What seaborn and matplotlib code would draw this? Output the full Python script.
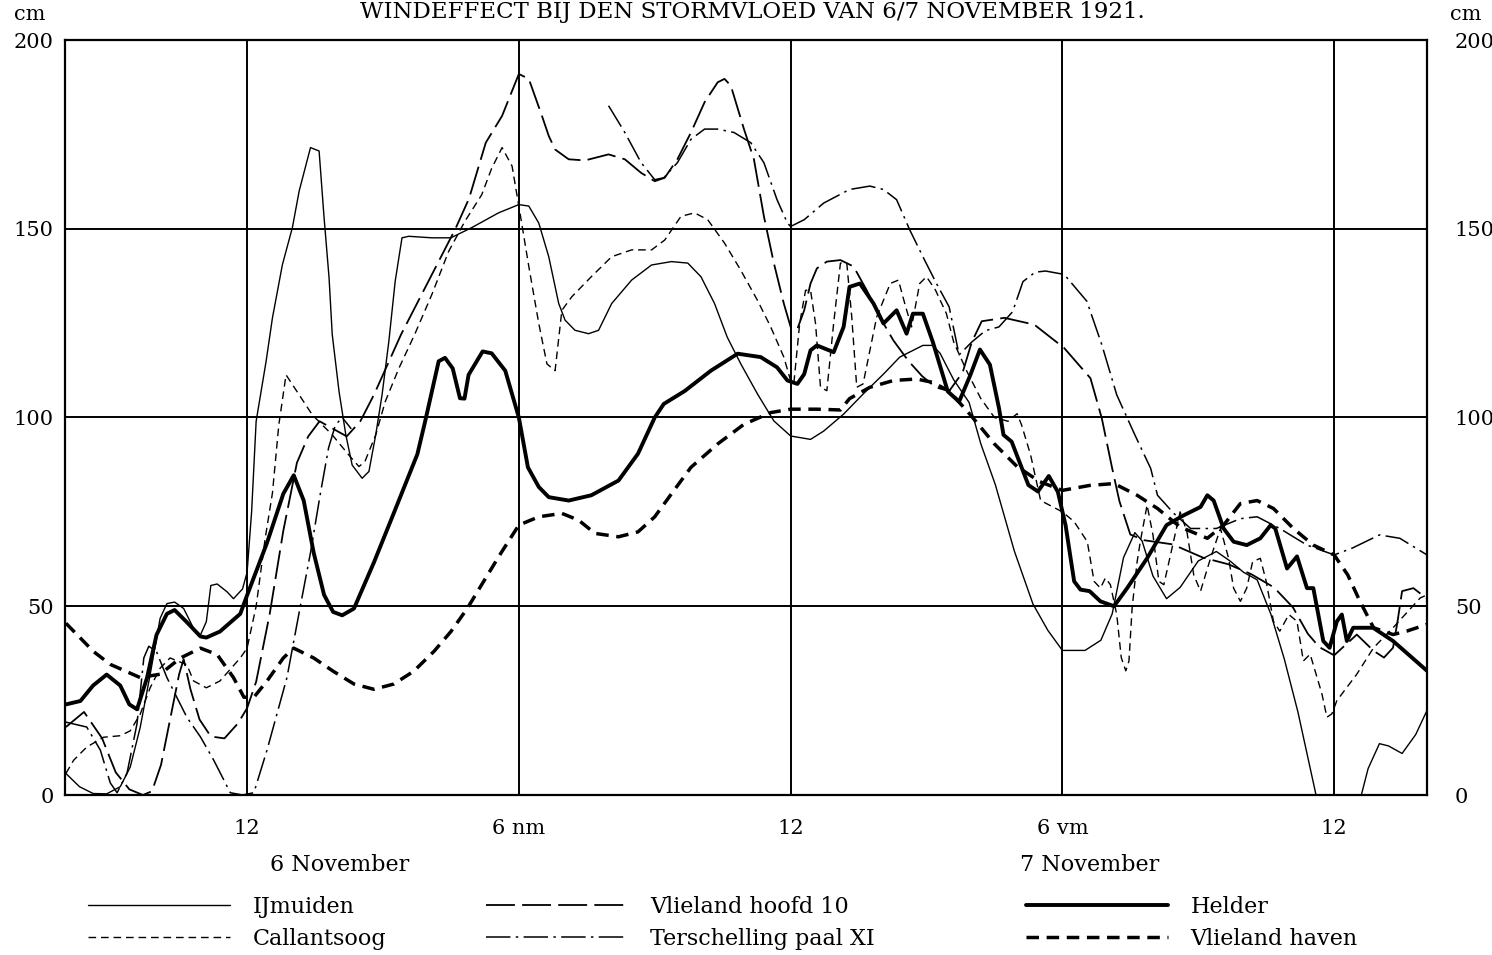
import numpy as np
import pandas as pd
import matplotlib
matplotlib.use("Agg")
import matplotlib.pyplot as plt
from matplotlib.lines import Line2D
import seaborn as sns

# ---------------- data (hours since 6 Nov 00:00, cm) ----------------
ijmuiden_h = [8.0, 8.3, 8.6, 8.9, 9.2, 9.42, 9.64, 9.86, 10.08, 10.23, 10.4, 10.6, 10.82, 10.97, 11.1, 11.2,
              11.34, 11.56, 11.7, 11.9, 12.0, 12.1, 12.2, 12.42, 12.56, 12.78, 13.0, 13.15, 13.4, 13.59, 13.7,
              13.81, 13.88, 14.03, 14.18, 14.32, 14.54, 14.69, 14.84, 14.98, 15.13, 15.27, 15.42, 15.57, 16.08,
              16.5, 16.96, 17.55, 18.0, 18.22, 18.44, 18.66, 18.88, 19.02, 19.24, 19.54, 19.76, 20.05, 20.49,
              20.93, 21.37, 21.73, 22.02, 22.32, 22.6, 22.9, 23.27, 23.63, 24.0, 24.44, 24.73, 25.17, 25.6,
              26.05, 26.41, 26.92, 27.14, 27.3, 27.6, 27.94, 28.2, 28.52, 28.94, 29.35, 29.68, 30.0, 30.5,
              30.85, 31.1, 31.35, 31.6, 31.76, 32.0, 32.3, 32.6, 33.0, 33.4, 33.7, 34.0, 34.3, 34.6, 34.9,
              35.2, 35.6, 36.0, 36.6, 36.75, 37.0, 37.2, 37.5, 37.8, 38.05]
ijmuiden_cm = [5.7, 2.2, 0.4, 0.3, 2.2, 7.4, 17.9, 31.9, 46.8, 50.7, 51.1, 49.4, 44.1, 42.4, 45.9, 55.5,
               55.9, 53.8, 52.0, 54.6, 59, 75, 99, 114.9, 126.4, 140.5, 150.3, 160, 171.5, 170.6, 152.9,
               137, 122, 106.9, 95.4, 87.4, 83.9, 85.7, 95.4, 106, 120.2, 136.1, 147.6, 148, 147.6,
               147.6, 150.3, 154.2, 156.4, 156, 151.5, 142.6, 130.2, 125.8, 123.1, 122.2, 123.1, 130.2, 136.4,
               140.4, 141.3, 140.9, 137.3, 130.2, 121.3, 114.2, 106.2, 99.1, 95.1, 94.2, 96.4, 100.9, 106.2,
               111.5, 116, 119.1, 119.1, 117, 110, 104, 93, 82.2, 64.6, 50.6, 43.6, 38.3, 38.3,
               41, 48, 62.9, 69.5, 67.3, 58, 52, 55, 62, 64.5, 62, 59, 57, 48, 36,
               22, 0, 0, 0, 7, 13.6, 13, 11, 16, 22.4]

callantsoog_h = [8.0, 8.17, 8.46, 8.83, 9.2, 9.42, 9.64, 9.86, 10.08, 10.3, 10.67, 10.82, 11.1, 11.4, 11.85,
                 12.0, 12.2, 12.4, 12.56, 12.7, 12.86, 13.15, 13.44, 13.88, 14.25, 14.47, 14.6, 14.84, 15.05,
                 15.35, 15.7, 16.08, 16.45, 16.81, 17.18, 17.4, 17.63, 17.85, 18.0, 18.22, 18.44, 18.62, 18.8,
                 18.95, 19.17, 19.6, 20.05, 20.49, 20.93, 21.22, 21.58, 21.88, 22.17, 22.54, 22.9, 23.27,
                 23.56, 23.85, 24.0, 24.07, 24.2, 24.33, 24.44, 24.55, 24.66, 24.8, 24.95, 25.1, 25.24,
                 25.35, 25.46, 25.6, 25.9, 26.2, 26.38, 26.52, 26.67, 26.85, 27.0, 27.2, 27.44, 27.6, 27.9,
                 28.2, 28.5, 28.8, 29.0, 29.1, 29.3, 29.52, 30.0, 30.26, 30.55, 30.7, 30.84, 30.95, 31.06,
                 31.2, 31.3, 31.4, 31.47, 31.54, 31.65, 31.72, 31.87, 32.0, 32.13, 32.24, 32.42, 32.6,
                 32.75, 32.9, 33.05, 33.27, 33.49, 33.67, 33.78, 33.93, 34.07, 34.2, 34.37, 34.5, 34.66,
                 34.8, 35.0, 35.18, 35.32, 35.47, 35.6, 35.73, 35.84, 35.95, 36.06, 36.5, 36.87, 37.3,
                 37.9, 38.05]
callantsoog_cm = [5.7, 9.2, 12.7, 15.3, 15.7, 17, 21.4, 28.4, 33.6, 36.3, 34.5, 30.2, 28.4, 30.2, 36.3,
                  38.9, 50, 68, 80, 98, 111.3, 106, 100.7, 95.4, 90, 87, 88.3, 95.4, 104.2,
                  113, 122, 132.6, 144, 152, 159, 166, 171.5, 166.6, 156, 140, 124.9, 114.2, 112.4,
                  128.4, 132, 137.3, 142.6, 144.4, 144.4, 147, 153.3, 154.2, 152.4, 146.2, 139, 131,
                  124, 116, 109.8, 108.9, 124.9, 133.7, 133.7, 124.9, 108, 107.1, 124.9, 140.9, 140.9,
                  126.6, 108, 108.9, 126.6, 135.5, 136.4, 130.2, 124, 135.5, 137.3, 133.7, 127.5, 120, 112,
                  105, 100, 99, 101, 98, 90, 78, 75, 72.4, 67.1, 56.6, 54.8, 57.5, 55.7,
                  47.8, 36.4, 32.9, 35.5, 49.6, 61.8, 67.1, 76.8, 68.9, 56.6, 55.7, 65.4, 75,
                  69.7, 58.3, 54, 62.7, 70.6, 62.7, 54.8, 51.3, 54.8, 61.8, 62.7, 56.6, 46,
                  43.4, 47.8, 46, 35.5, 37.3, 32, 26.8, 20.6, 21.5, 25, 32, 39, 44.3,
                  52.2, 53]

vlieland_hoofd_h = [8.0, 8.4, 8.8, 9.1, 9.4, 9.7, 9.9, 10.1, 10.3, 10.5, 10.6, 10.75, 10.95, 11.2, 11.5, 11.8,
                    12.0, 12.2, 12.5, 12.8, 13.1, 13.35, 13.6, 13.9, 14.2, 14.5, 14.8, 15.1, 15.4, 15.7, 16.0,
                    16.3, 16.6, 16.9, 17.27, 17.63, 18.0, 18.22, 18.51, 18.66, 18.8, 19.1, 19.46, 19.98, 20.34,
                    20.7, 21.0, 21.22, 21.5, 21.8, 22.1, 22.39, 22.54, 22.68, 22.97, 23.19, 23.41, 23.63,
                    23.85, 24.0, 24.15, 24.3, 24.44, 24.58, 24.8, 25.1, 25.39, 25.68, 25.97, 26.27, 26.6,
                    26.9, 27.2, 27.5, 27.8, 28.0, 28.22, 28.72, 29.38, 30.04, 30.62, 30.87, 31.1, 31.26,
                    31.5, 31.8, 32.43, 33.1, 33.67, 34.17, 34.67, 35.09, 35.42, 35.67, 36.0, 36.5, 36.87,
                    37.1, 37.3, 37.4, 37.5, 37.75, 38.05]
vlieland_hoofd_cm = [18, 22, 15, 6, 1.5, 0, 1, 8, 20, 32, 36, 28, 20, 15.5, 15, 19,
                     23, 30, 48, 70, 88, 95, 99, 97, 95, 99, 106, 114, 122, 129, 136,
                     143, 150, 158, 172.8, 179.9, 191, 189.7, 179.9, 174.6, 171, 168.4, 168.1, 169.7, 168.4,
                     164.8, 162.6, 163.5, 168.4, 175.5, 183.5, 188.8, 189.7, 187.9, 176.4, 168.4, 153.3, 140.9,
                     130.2, 124, 123.5, 128.4, 135.5, 139.5, 141.3, 141.7, 140, 133.7, 126.6, 120.4, 115,
                     111, 108, 107, 112, 120, 125.5, 126.4, 124.6, 118.4, 110.4, 99.8, 86.5, 77.8,
                     69, 67.5, 66.4, 62.9, 61.1, 58.5, 55, 49.7, 42.7, 39.2, 37, 42.5, 38.2,
                     36.4, 39, 46, 54, 54.8, 52]

# NaN marks the break in the Terschelling record
terschelling_h = [8.0, 8.46, 8.76, 8.98, 9.13, 9.35, 9.57, 9.72, 9.83, 10.0, 10.23, 10.67, 10.97, 11.26, 11.63,
                  11.9, 12.15, 12.44, 12.88, 13.18, 13.4, 13.62, 13.8, 13.95, 14.1, 14.3, np.nan,
                  19.98, 20.34, 20.7, 21.0, 21.2, 21.5, 21.8, 22.1, 22.39, 22.75, 23.12, 23.41, 23.7, 23.93,
                  24.0, 24.3, 24.73, 25.3, 25.75, 26.05, 26.34, 26.63, 26.92, 27.22, 27.5, 27.72, 28.0,
                  28.3, 28.6, 28.9, 29.13, 29.4, 29.63, 30.04, 30.54, 30.87, 31.2, 31.6, 31.95, 32.1, 32.46,
                  32.83, 33.4, 33.93, 34.3, 34.8, 35.4, 36.0, 36.4, 37.0, 37.45, 38.05]
terschelling_cm = [19.3, 18, 11.9, 3.2, 0.6, 5.8, 18.9, 36.3, 39.4, 38, 31.1, 20.6, 15.4, 9.3, 0.6,
                   0, 0.6, 11.9, 31.1, 50.3, 64.2, 80, 92, 98, 100, 97, np.nan,
                   182.6, 175.5, 167.5, 163, 163.5, 167.5, 173.7, 176.4, 176.4, 175.5, 172.8, 167.5, 157.7, 151.5,
                   150.6, 152.4, 156.8, 160.4, 161.3, 160.4, 157.7, 149.7, 142.6, 135.5, 129.3, 116.6, 120,
                   123, 124, 128, 136, 138.5, 138.8, 137.9, 130.8, 119.3, 106, 95.4, 86.5, 79.4, 74.6,
                   70.6, 70.6, 73.2, 73.7, 70.6, 66.2, 63.6, 65.4, 68.9, 68, 63.6]

helder_h = [8.0, 8.32, 8.6, 8.9, 9.2, 9.4, 9.57, 9.79, 10.0, 10.23, 10.4, 10.66, 10.97, 11.1, 11.4, 11.85,
            12.0, 12.44, 12.8, 13.03, 13.25, 13.47, 13.7, 13.9, 14.1, 14.36, 14.8, 15.24, 15.76, 15.93, 16.23,
            16.37, 16.54, 16.7, 16.8, 16.89, 17.2, 17.4, 17.7, 18.0, 18.2, 18.44, 18.66, 19.1, 19.6, 20.2,
            20.63, 21.0, 21.2, 21.66, 22.24, 22.83, 23.34, 23.7, 23.93, 24.15, 24.3, 24.44, 24.58, 24.95,
            25.17, 25.3, 25.53, 25.83, 26.05, 26.34, 26.56, 26.7, 26.92, 27.14, 27.47, 27.72, 27.97, 28.18,
            28.4, 28.6, 28.7, 28.88, 29.05, 29.25, 29.46, 29.7, 29.9, 30.07, 30.26, 30.4, 30.6, 30.84,
            31.14, 31.43, 31.87, 32.3, 32.68, 33.05, 33.2, 33.34, 33.56, 33.78, 34.07, 34.37, 34.6, 34.7,
            34.96, 35.18, 35.4, 35.54, 35.76, 35.9, 36.06, 36.17, 36.28, 36.42, 36.86, 37.3, 38.05]
helder_cm = [24, 24.9, 29, 31.9, 29, 24, 22.7, 31, 42.4, 48, 49, 45.9, 42, 41.7, 43.3, 48,
             52.9, 66.8, 79.8, 84.7, 78, 64.2, 53, 48.5, 47.6, 49.4, 61.6, 74.7, 90.3, 98.9, 114.9,
             115.8, 113, 105.1, 105, 111.3, 117.5, 117, 112.4, 100, 86.8, 81.6, 78.9, 78, 79.4, 83.3,
             90.4, 100, 103.6, 107, 112.4, 116.9, 116, 113.3, 109.8, 108.9, 111.5, 117.8, 119.1, 117.3,
             124, 134.6, 135.5, 130.2, 124.9, 128.4, 122.2, 127.5, 127.5, 120, 106.9, 104.2, 111.3, 118,
             114, 102.5, 95.4, 93.6, 88.3, 82.1, 80.4, 84.5, 80.3, 71.5, 56.6, 54.4, 54, 51.3,
             50, 54.8, 62.7, 71.5, 74.1, 76.3, 79.4, 78, 70.6, 67.1, 66.2, 68, 71.5, 70.6,
             60, 63.2, 54.8, 54.8, 40.8, 39, 46, 47.8, 40.8, 44.3, 44.3, 40.8, 32.9]

vlieland_haven_h = [8.0, 8.61, 8.98, 9.64, 10.08, 10.53, 10.97, 11.34, 11.7, 11.93, 12.15, 12.44, 12.8, 13.03,
                    13.47, 13.9, 14.36, 14.8, 15.24, 15.68, 16.13, 16.5, 16.86, 17.3, 17.6, 18.0, 18.44, 18.95,
                    19.32, 19.68, 20.2, 20.63, 21.0, 21.37, 21.8, 22.39, 22.97, 23.56, 24.0, 24.58, 25.1, 25.3,
                    25.75, 26.27, 26.78, 27.14, 27.5, 27.97, 28.5, 29.0, 29.5, 30.0, 30.6, 31.14, 31.65, 32.1,
                    32.6, 33.2, 33.56, 33.93, 34.3, 34.66, 35.1, 35.54, 36.0, 36.3, 36.57, 36.87, 37.3, 37.6,
                    38.05]
vlieland_haven_cm = [45.5, 38, 34.6, 31.1, 32, 36.3, 38.9, 37.2, 31.1, 25.9, 25.9, 30.2, 36.3, 38.9,
                     36.3, 32.8, 29.4, 28, 29.4, 32.8, 38.1, 43.3, 49.4, 58.1, 64, 71.5, 73.7, 74.6,
                     72.8, 69.3, 68.4, 69.7, 73.7, 79.8, 86.8, 93, 98.2, 101.3, 102.2, 102.2, 102, 105,
                     108, 109.8, 110.2, 109.3, 107, 100.7, 93, 87, 83, 80.7, 82, 82.5, 79.4, 75.9,
                     71, 68, 71.5, 77.2, 78, 75.9, 70.6, 66.2, 63.6, 58.3, 51.3, 44.3, 42.5, 43.4,
                     45.2]

stations = ["IJmuiden", "Callantsoog", "Vlieland hoofd 10", "Terschelling paal XI", "Helder", "Vlieland haven"]
tick_hours = [12, 18, 24, 30, 36]
tick_labels = ["12", "6 nm", "12", "6 vm", "12"]
y_ticks = [0, 50, 100, 150, 200]
day_labels = ["6 November", "7 November"]
title_text = "WINDEFFECT BIJ DEN STORMVLOED VAN 6/7 NOVEMBER 1921."

series = {
    "IJmuiden": (ijmuiden_h, ijmuiden_cm),
    "Callantsoog": (callantsoog_h, callantsoog_cm),
    "Vlieland hoofd 10": (vlieland_hoofd_h, vlieland_hoofd_cm),
    "Terschelling paal XI": (terschelling_h, terschelling_cm),
    "Helder": (helder_h, helder_cm),
    "Vlieland haven": (vlieland_haven_h, vlieland_haven_cm),
}

frames = []
for name, (hh, cc) in series.items():
    d = pd.DataFrame({"hour": hh, "cm": cc})
    d["seg"] = d["hour"].isna().cumsum()
    d = d.dropna()
    d["station"] = name
    frames.append(d)
df = pd.concat(frames, ignore_index=True)

styles = {
    "IJmuiden": dict(lw=1.0, ls="-"),
    "Callantsoog": dict(lw=1.0, ls=(0, (5.5, 3.5))),
    "Vlieland hoofd 10": dict(lw=1.3, ls=(0, (16, 4))),
    "Terschelling paal XI": dict(lw=1.1, ls=(0, (16, 3.5, 1.6, 3.5))),
    "Helder": dict(lw=2.8, ls="-"),
    "Vlieland haven": dict(lw=2.5, ls=(0, (3.6, 2.2))),
}

# ---------------- figure ----------------
sns.set_theme(style="white")
plt.rcParams["font.family"] = ["DejaVu Serif", "DejaVu Sans"]
plt.rcParams["axes.unicode_minus"] = False
plt.rcParams["text.color"] = "black"
plt.rcParams["xtick.color"] = "black"
plt.rcParams["ytick.color"] = "black"
plt.rcParams["legend.labelcolor"] = "black"

W, H = 1492, 955
fig = plt.figure(figsize=(W / 100, H / 100), dpi=100)
fig.patch.set_facecolor("white")
ax = fig.add_axes([65 / W, 160 / H, 1362 / W, 755 / H])

for name in stations:
    sub = df[df["station"] == name]
    st = styles[name]
    sns.lineplot(data=sub, x="hour", y="cm", units="seg", estimator=None, sort=False,
                 color="black", linewidth=st["lw"], linestyle=st["ls"], ax=ax, legend=False,
                 zorder=3)

ax.set_xlim(7.98, 38.05)
ax.set_ylim(0, 200)
ax.set_xticks(tick_hours)
ax.set_xticklabels(tick_labels)
ax.set_yticks(y_ticks)
ax.set_xlabel("")
ax.set_ylabel("")
ax.grid(True, color="black", linewidth=1.4, zorder=1)
for s in ax.spines.values():
    s.set_color("black")
    s.set_linewidth(1.6)
ax.tick_params(axis="both", length=0, labelsize=15, colors="black")
ax.tick_params(axis="x", pad=17)
ax.tick_params(axis="y", pad=8)
ax.set_facecolor("white")

ax2 = ax.twinx()
ax2.set_ylim(0, 200)
ax2.set_yticks(y_ticks)
ax2.tick_params(axis="y", length=0, labelsize=15, pad=20, colors="black")
ax2.grid(False)
for s in ax2.spines.values():
    s.set_visible(False)

# unit labels and title
fig.text(30 / W, 1 - 15 / H, "cm", ha="center", va="center", fontsize=15, color="black")
fig.text(1466 / W, 1 - 15 / H, "cm", ha="center", va="center", fontsize=15, color="black")
fig.text(752 / W, 1 - 12 / H, title_text, ha="center", va="center", fontsize=16.5, color="black")

# day labels
fig.text(340 / W, 1 - 865 / H, day_labels[0], ha="center", va="center", fontsize=16, color="black")
fig.text(1090 / W, 1 - 865 / H, day_labels[1], ha="center", va="center", fontsize=16, color="black")

# legend (three columns of two)
handles = {n: Line2D([], [], color="black", linewidth=styles[n]["lw"], linestyle=styles[n]["ls"])
           for n in stations}
cols = [(stations[0:2], 88), (stations[2:4], 486), (stations[4:6], 1026)]
for names, xpx in cols:
    leg = fig.legend([handles[n] for n in names], names, loc="upper left",
                     bbox_to_anchor=(xpx / W, 1 - 896 / H), frameon=False, fontsize=16,
                     handlelength=6.4, handletextpad=1.0, labelspacing=0.45,
                     borderpad=0, borderaxespad=0)
    for t in leg.get_texts():
        t.set_color("black")

fig.savefig("out.png", dpi=100, facecolor="white")
